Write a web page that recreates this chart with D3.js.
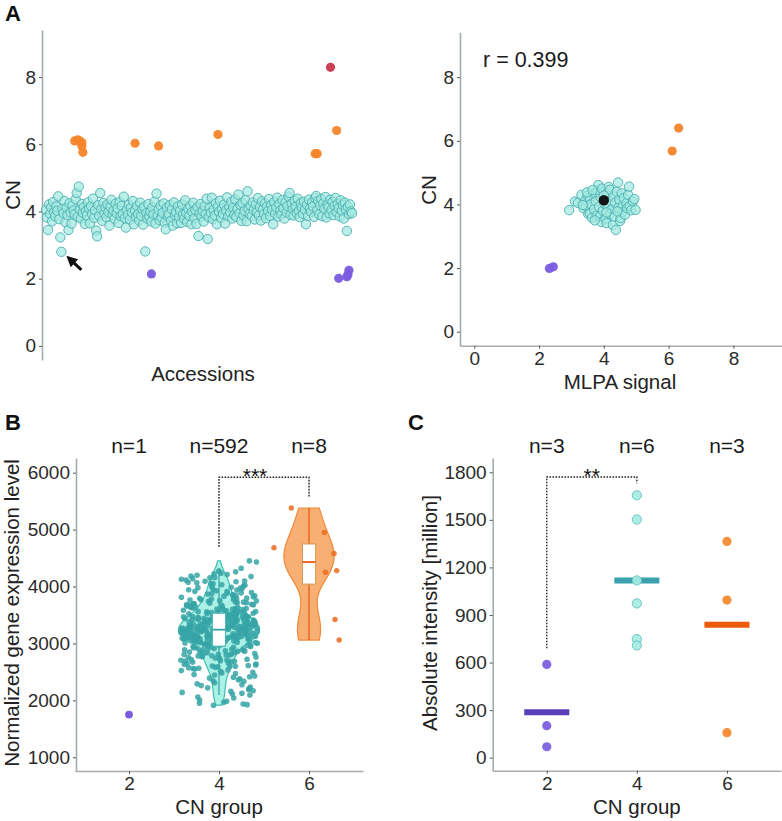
<!DOCTYPE html>
<html>
<head>
<meta charset="utf-8">
<script src="https://cdn.jsdelivr.net/npm/d3@7"></script>
<style>
  body { margin: 0; background: #fff; }
  svg { display: block; }
</style>
</head>
<body>
<div id="chart"></div>
<script>
// ---- Panel A (left): CN per accession, in accession order ----
const cn4Accessions = [
  4.05, 3.82, 3.45, 4.21, 3.93, 4.12, 3.71, 4.28, 3.98, 3.86, 4.15, 4.02, 4.45, 3.77, 3.23, 2.80, 4.08, 3.95, 4.31, 3.68,
  4.11, 3.89, 3.45, 4.24, 3.97, 3.64, 4.18, 4.03, 3.91, 4.36, 4.55, 3.84, 4.74, 4.06, 3.79, 4.22, 3.96, 4.13, 3.63, 4.01,
  3.88, 4.27, 4.09, 3.65, 4.16, 3.92, 4.38, 3.81, 4.04, 3.43, 3.26, 4.19, 3.87, 4.55, 4.07, 3.72, 4.25, 3.94, 4.12, 3.83,
  4.21, 3.98, 3.58, 4.14, 4.35, 3.89, 4.02, 3.78, 4.23, 3.95, 4.09, 3.66, 4.28, 3.86, 4.17, 3.93, 4.44, 3.80, 3.52, 4.05,
  3.90, 4.20, 3.76, 4.11, 3.97, 4.31, 3.62, 4.03, 3.84, 4.16, 3.92, 3.73, 4.26, 3.87, 4.08, 3.61, 4.14, 2.81, 3.95, 3.79,
  4.22, 3.85, 3.99, 3.70, 4.12, 3.91, 4.29, 3.64, 4.53, 3.88, 4.05, 3.74, 4.18, 3.82, 3.96, 4.24, 3.67, 3.47, 4.10, 3.86,
  3.93, 4.19, 3.72, 4.07, 3.58, 4.27, 3.89, 3.98, 3.65, 4.15, 3.84, 4.02, 3.66, 4.21, 3.91, 3.78, 4.33, 3.95, 3.69, 4.08,
  3.87, 4.17, 3.62, 3.99, 4.26, 3.80, 4.04, 3.63, 4.13, 3.27, 3.94, 4.22, 3.85, 4.01, 3.70, 4.16, 3.92, 4.38, 3.18, 3.83,
  4.10, 3.96, 4.41, 3.77, 4.06, 3.88, 4.24, 3.62, 4.14, 3.99, 4.32, 3.81, 4.08, 3.93, 4.20, 3.64, 4.03, 4.42, 3.86, 4.15,
  3.97, 4.28, 3.79, 4.11, 3.90, 4.36, 3.84, 4.07, 4.50, 3.95, 4.19, 3.72, 4.25, 3.88, 4.02, 4.33, 3.71, 4.60, 4.09, 3.93,
  4.17, 3.86, 4.27, 4.04, 3.76, 4.21, 3.98, 4.40, 3.89, 4.13, 3.73, 4.30, 4.06, 3.92, 4.24, 3.80, 4.15, 4.01, 4.37, 3.87,
  4.19, 4.05, 3.62, 4.28, 3.94, 4.12, 4.41, 3.85, 4.22, 4.03, 3.91, 4.34, 4.10, 3.79, 4.26, 3.97, 4.16, 4.44, 4.55, 3.90,
  4.23, 4.07, 3.88, 4.32, 4.14, 3.95, 4.38, 4.02, 3.83, 4.25, 4.11, 3.93, 4.29, 4.06, 3.62, 4.20, 3.87, 4.35, 4.09, 3.99,
  4.27, 4.15, 3.84, 4.40, 4.46, 4.04, 4.31, 3.91, 4.18, 4.37, 3.86, 4.24, 4.08, 4.43, 3.82, 4.21, 4.13, 3.94, 4.35, 4.05,
  4.28, 3.89, 4.17, 4.40, 3.98, 4.22, 4.10, 3.85, 4.33, 4.02, 4.19, 3.79, 4.26, 4.07, 3.42, 4.14, 3.92, 4.21, 4.00, 3.95
];
// [accession index, CN]
const cn6Accessions = [[28, 6.1], [31, 6.13], [33, 6.1], [35, 6.05], [35, 5.95], [36, 5.76], [87, 6.03],
  [110, 5.95], [168, 6.29], [263, 5.72], [265, 5.72], [284, 6.41]];
const cn8Accessions = [[278, 8.29]];
const cn2Accessions = [[103, 2.14], [286, 2.01], [294, 2.06], [295, 2.12], [296, 2.25]];
const arrowAccession = 15;

// ---- Panel A (right): [MLPA signal, CN] ----
const mlpaCN4 = [
  [2.93, 3.82], [3.11, 4.09], [3.2, 4.05], [3.31, 4.3], [3.37, 3.88], [3.42, 4.12], [3.45, 3.95], [3.5, 4.28],
  [3.52, 3.7], [3.57, 4.2], [3.57, 3.72], [3.6, 4.0], [3.63, 3.58], [3.68, 4.33], [3.7, 3.85], [3.73, 4.35],
  [3.75, 4.1], [3.78, 3.65], [3.8, 4.45], [3.83, 4.61], [3.85, 3.92], [3.88, 3.62], [3.9, 4.22], [3.92, 3.45],
  [3.95, 4.5], [3.97, 3.8], [4.02, 4.02], [4.05, 3.55], [4.09, 3.41], [4.1, 4.35], [4.12, 3.95], [4.15, 4.55],
  [4.19, 4.46], [4.2, 3.7], [4.22, 4.1], [4.25, 3.85], [4.28, 3.35], [4.3, 4.25], [4.33, 3.62], [4.35, 4.05],
  [4.37, 3.2], [4.4, 4.4], [4.44, 4.69], [4.45, 3.9], [4.48, 4.15], [4.5, 3.48], [4.52, 3.57], [4.55, 4.35],
  [4.58, 3.95], [4.6, 3.77], [4.62, 4.2], [4.65, 3.68], [4.7, 4.04], [4.72, 3.88], [4.75, 4.3], [4.78, 4.56],
  [4.8, 3.95], [4.85, 3.82], [4.9, 4.1], [4.94, 4.17], [4.98, 3.83], [3.35, 3.98], [3.48, 4.38], [3.65, 4.45],
  [4.0, 4.28], [4.08, 3.75], [3.72, 3.5], [4.42, 3.78]
];
const mlpaCN6 = [[6.11, 5.68], [6.31, 6.4]];
const mlpaCN2 = [[2.32, 1.99], [2.44, 2.04]];
const mlpaRef = [[4.0, 4.13]];
const pearsonLabel = "r = 0.399";

// ---- Panel B: normalized expression per CN group ----
const groups = ["2", "4", "6"];
const exprCN2 = [1750];
const exprCN4 = [
  1915, 1935, 1950, 1985, 2005, 2060, 2095, 2110, 2140, 2170, 2190, 2205, 2235, 2260, 2290,
  2310, 2345, 2360, 2390, 2405, 2430, 2455, 2470, 2495, 2510, 2525, 2550, 2565, 2580, 2590, 2598,
  2605, 2620, 2640, 2655, 2670, 2685, 2695, 2705, 2715, 2730, 2745, 2760, 2775, 2785, 2795,
  2805, 2815, 2830, 2840, 2855, 2865, 2880, 2890, 2898, 2905, 2912, 2925, 2938, 2945, 2958, 2966, 2975, 2985, 2995,
  3004, 3011, 3013, 3022, 3027, 3030, 3038, 3041, 3049, 3052, 3058, 3060, 3067, 3071, 3075, 3082, 3084, 3089, 3093, 3096, 3098,
  3101, 3106, 3109, 3114, 3118, 3121, 3125, 3130, 3133, 3137, 3142, 3145, 3149, 3153, 3158, 3161, 3166, 3170, 3174, 3178, 3183, 3187, 3192, 3197,
  3203, 3205, 3210, 3214, 3217, 3222, 3226, 3229, 3233, 3236, 3240, 3244, 3247, 3251, 3255, 3258, 3262, 3266, 3270, 3273, 3277, 3281, 3285, 3288, 3293, 3298,
  3302, 3306, 3311, 3314, 3318, 3323, 3327, 3330, 3335, 3339, 3342, 3346, 3351, 3355, 3358, 3363, 3367, 3370, 3375, 3379, 3383, 3388, 3392, 3397,
  3404, 3409, 3413, 3418, 3424, 3428, 3433, 3437, 3443, 3448, 3452, 3457, 3462, 3467, 3471, 3476, 3481, 3486, 3491, 3496,
  3505, 3512, 3519, 3526, 3534, 3541, 3548, 3556, 3563, 3570, 3578, 3585, 3592, 3598,
  3606, 3615, 3624, 3633, 3642, 3651, 3660, 3669, 3678, 3687, 3696,
  3708, 3719, 3730, 3741, 3752, 3763, 3774, 3785, 3796,
  3806, 3818, 3831, 3843, 3856, 3868, 3881, 3893,
  3910, 3924, 3938, 3952, 3966, 3980, 3994,
  4012, 4030, 4048, 4066, 4084, 4098, 4115, 4135, 4160, 4185, 4198,
  4210, 4235, 4270, 4320, 4430, 4450,
  1925, 1968, 2040, 2125, 2160, 2220, 2275, 2335, 2380, 2415, 2445, 2480,
  2535, 2560, 2575, 2595, 2612, 2633, 2648, 2677, 2690,
  2708, 2722, 2738, 2752, 2768, 2781, 2799, 2808, 2822, 2836, 2848, 2861, 2872, 2887,
  2903, 2918, 2931, 2942, 2953, 2962, 2979, 2991,
  3006, 3017, 3024, 3033, 3045, 3055, 3063, 3069, 3077, 3081, 3086, 3091, 3097,
  3103, 3111, 3116, 3123, 3128, 3135, 3140, 3147, 3155, 3163, 3168, 3176, 3185, 3194,
  3201, 3208, 3212, 3219, 3224, 3231, 3238, 3242, 3249, 3256, 3264, 3271, 3279, 3286, 3295,
  3304, 3309, 3316, 3321, 3329, 3333, 3341, 3348, 3353, 3361, 3369, 3377, 3386, 3394,
  3402, 3411, 3420, 3426, 3435, 3441, 3450, 3459, 3466, 3474, 3483, 3494,
  3508, 3516, 3530, 3538, 3552, 3560, 3574, 3582, 3595,
  3610, 3628, 3646, 3657, 3672, 3684, 3699,
  3713, 3726, 3747, 3768, 3780, 3792, 3812, 3837, 3851, 3874, 3889,
  3915, 3943, 3971, 3988, 4021, 4055, 4076, 4093, 4128, 4152, 4176, 4225, 4260
];
const exprCN6 = [5380, 4950, 4580, 4250, 4280, 4680, 3420, 3060];
const nLabelsB = ["n=1", "n=592", "n=8"];

// ---- Panel C: absolute intensity [million] ----
const intensityCN2 = [588, 202, 69];
const intensityCN4 = [1655, 1502, 1118, 973, 748, 708];
const intensityCN6 = [1364, 994, 158];
const nLabelsC = ["n=3", "n=6", "n=3"];

const FONT = '"Liberation Sans", Arial, Helvetica, sans-serif';
const W = 782, H = 821;

const svg = d3.select("#chart").append("svg")
  .attr("width", W).attr("height", H)
  .attr("viewBox", `0 0 ${W} ${H}`)
  .style("font-family", FONT);

svg.append("rect").attr("width", W).attr("height", H).attr("fill", "#fff");

function styleAxis(g) {
  g.attr("font-family", FONT).attr("font-size", 19);
  g.select(".domain").attr("stroke", "#a5adad").attr("stroke-width", 1.6);
  g.selectAll(".tick line").attr("stroke", "#555").attr("stroke-width", 1);
  g.selectAll(".tick text").attr("fill", "#2b2b2b");
}

function yTitle(x, y, label) {
  svg.append("text")
    .attr("transform", `translate(${x},${y}) rotate(-90)`)
    .attr("text-anchor", "middle")
    .attr("font-size", 20.5)
    .attr("fill", "#222")
    .text(label);
}

function xTitle(x, y, label) {
  svg.append("text")
    .attr("x", x).attr("y", y)
    .attr("text-anchor", "middle")
    .attr("font-size", 20.5)
    .attr("fill", "#222")
    .text(label);
}

function panelLetter(x, y, label) {
  svg.append("text")
    .attr("x", x).attr("y", y)
    .attr("font-size", 22)
    .attr("font-weight", "bold")
    .attr("fill", "#111")
    .text(label);
}

const teal = { fill: "#a2e9df", stroke: "#48aeb2" };
const orange = "#f7852a";
const red = "#c8364b";
const purple = "#7a5be0";
const intFormat = d3.format("d");

// ================= Panel A left =================
const xA = d3.scaleLinear().domain([0, cn4Accessions.length - 1]).range([46, 352]);
const yA = d3.scaleLinear().domain([-0.42, 9.4]).range([360, 30]);

svg.append("g")
  .attr("transform", "translate(42,0)")
  .call(d3.axisLeft(yA).tickValues([0, 2, 4, 6, 8]).tickSize(3).tickPadding(3).tickSizeOuter(0))
  .call(styleAxis);

svg.append("g").selectAll("circle")
  .data(cn4Accessions.map((v, i) => [i, v]))
  .join("circle")
  .attr("cx", d => xA(d[0]))
  .attr("cy", d => yA(d[1]))
  .attr("r", 4.7)
  .attr("fill", teal.fill)
  .attr("fill-opacity", 0.72)
  .attr("stroke", teal.stroke)
  .attr("stroke-width", 0.9);

[[cn6Accessions, orange], [cn8Accessions, red], [cn2Accessions, purple]].forEach(([data, c]) => {
  svg.append("g").selectAll("circle")
    .data(data)
    .join("circle")
    .attr("cx", d => xA(d[0]))
    .attr("cy", d => yA(d[1]))
    .attr("r", 4.6)
    .attr("fill", c)
    .attr("fill-opacity", 0.95);
});

// arrow pointing at one accession
{
  const tip = [xA(arrowAccession) + 5, yA(cn4Accessions[arrowAccession]) + 4];
  const tail = [tip[0] + 15, tip[1] + 14];
  const len = Math.hypot(tail[0] - tip[0], tail[1] - tip[1]);
  const dx = (tip[0] - tail[0]) / len, dy = (tip[1] - tail[1]) / len;
  const hl = 11, hw = 5.5;
  const base = [tip[0] - dx * hl, tip[1] - dy * hl];
  svg.append("line")
    .attr("x1", tail[0]).attr("y1", tail[1])
    .attr("x2", tip[0] - dx * 7).attr("y2", tip[1] - dy * 7)
    .attr("stroke", "#111").attr("stroke-width", 3);
  svg.append("path")
    .attr("d", `M${tip[0]},${tip[1]}L${base[0] - dy * hw},${base[1] + dx * hw}L${base[0] + dy * hw},${base[1] - dx * hw}Z`)
    .attr("fill", "#111");
}

yTitle(20, 195, "CN");
xTitle(203, 381, "Accessions");
panelLetter(5, 21, "A");

// ================= Panel A right =================
const xM = d3.scaleLinear().domain([-0.44, 9.5]).range([460, 782]);
const yM = d3.scaleLinear().domain([-0.44, 9.41]).range([345.7, 32.3]);

svg.append("g")
  .attr("transform", "translate(460,0)")
  .call(d3.axisLeft(yM).tickValues([0, 2, 4, 6, 8]).tickSize(3).tickPadding(3).tickSizeOuter(0))
  .call(styleAxis);
svg.append("g")
  .attr("transform", "translate(0,345.7)")
  .call(d3.axisBottom(xM).tickValues([0, 2, 4, 6, 8]).tickSize(3).tickPadding(3).tickSizeOuter(0))
  .call(styleAxis);

svg.append("g").selectAll("circle")
  .data(mlpaCN4)
  .join("circle")
  .attr("cx", d => xM(d[0]))
  .attr("cy", d => yM(d[1]))
  .attr("r", 4.7)
  .attr("fill", teal.fill)
  .attr("fill-opacity", 0.72)
  .attr("stroke", teal.stroke)
  .attr("stroke-width", 0.9);

[[mlpaCN6, orange, 4.6], [mlpaCN2, purple, 4.6], [mlpaRef, "#0b0b0b", 5.2]].forEach(([data, c, r]) => {
  svg.append("g").selectAll("circle")
    .data(data)
    .join("circle")
    .attr("cx", d => xM(d[0]))
    .attr("cy", d => yM(d[1]))
    .attr("r", r)
    .attr("fill", c)
    .attr("fill-opacity", 0.95);
});

svg.append("text")
  .attr("x", 483).attr("y", 67)
  .attr("font-size", 21.5)
  .attr("fill", "#1a1a1a")
  .text(pearsonLabel);

yTitle(436, 190, "CN");
xTitle(620, 389, "MLPA signal");

// ================= Panel B =================
const xB = d3.scaleLinear().domain([0.4, 3.6]).range([75, 363]);
const yB = d3.scaleLinear().domain([759, 6258]).range([771, 458]);

svg.append("g")
  .attr("transform", "translate(76,0)")
  .call(d3.axisLeft(yB).tickValues([1000, 2000, 3000, 4000, 5000, 6000]).tickFormat(intFormat).tickSize(3).tickPadding(3).tickSizeOuter(0))
  .call(styleAxis);
svg.append("g")
  .attr("transform", "translate(0,771)")
  .call(d3.axisBottom(xB).tickValues([1, 2, 3]).tickFormat((d, i) => groups[i]).tickSize(3).tickPadding(3).tickSizeOuter(0))
  .call(styleAxis);

function nrd0(v) {
  const s = v.slice().sort(d3.ascending);
  const iqr = d3.quantileSorted(s, 0.75) - d3.quantileSorted(s, 0.25);
  return 0.9 * Math.min(d3.deviation(s), iqr / 1.34) * Math.pow(s.length, -0.2);
}
function density(v) {
  const bw = nrd0(v);
  const [lo, hi] = d3.extent(v);
  return d3.range(0, 121).map(k => {
    const y = lo + (hi - lo) * k / 120;
    const d = d3.mean(v, x => Math.exp(-0.5 * ((y - x) / bw) ** 2)) / (bw * Math.sqrt(2 * Math.PI));
    return { y, d };
  });
}

const violinGroups = [
  { pos: 2, values: exprCN4, fill: "#9eefe0", stroke: "#3fc0b0", point: "#36a5a6", pr: 2.8, median: "#3aa5a8", boxStroke: "#45b8b2" },
  { pos: 3, values: exprCN6, fill: "#f6a15c", stroke: "#f08a3a", point: "#ec6a1e", pr: 2.7, median: "#ef5a14", boxStroke: "#d99a5a" }
];
violinGroups.forEach(g => { g.dens = density(g.values); });
const maxD = d3.max(violinGroups, g => d3.max(g.dens, p => p.d));

violinGroups.forEach(g => {
  const area = d3.area()
    .y(p => yB(p.y))
    .x0(p => xB(g.pos - 0.45 * p.d / maxD))
    .x1(p => xB(g.pos + 0.45 * p.d / maxD))
    .curve(d3.curveBasis);
  svg.append("path")
    .attr("d", area(g.dens))
    .attr("fill", g.fill)
    .attr("fill-opacity", 0.85)
    .attr("stroke", g.stroke)
    .attr("stroke-width", 1.2);
});

// jittered points
const rng = d3.randomLcg(0.4217);
violinGroups.forEach(g => {
  svg.append("g").selectAll("circle")
    .data(g.values.map(v => ({ v, j: (rng() * 2 - 1) * 0.43 })))
    .join("circle")
    .attr("cx", d => xB(g.pos + d.j))
    .attr("cy", d => yB(d.v))
    .attr("r", g.pr)
    .attr("fill", g.point)
    .attr("fill-opacity", 0.85);
});

// boxplots
violinGroups.forEach(g => {
  const s = g.values.slice().sort(d3.ascending);
  const q1 = d3.quantileSorted(s, 0.25), med = d3.quantileSorted(s, 0.5), q3 = d3.quantileSorted(s, 0.75);
  const iqr = q3 - q1;
  const lo = d3.min(s.filter(v => v >= q1 - 1.5 * iqr));
  const hi = d3.max(s.filter(v => v <= q3 + 1.5 * iqr));
  const bg = svg.append("g");
  bg.append("line")
    .attr("x1", xB(g.pos)).attr("x2", xB(g.pos))
    .attr("y1", yB(lo)).attr("y2", yB(q1))
    .attr("stroke", g.median).attr("stroke-width", 1.3);
  bg.append("line")
    .attr("x1", xB(g.pos)).attr("x2", xB(g.pos))
    .attr("y1", yB(q3)).attr("y2", yB(hi))
    .attr("stroke", g.median).attr("stroke-width", 1.3);
  bg.append("rect")
    .attr("x", xB(g.pos - 0.073)).attr("width", xB(g.pos + 0.073) - xB(g.pos - 0.073))
    .attr("y", yB(q3)).attr("height", yB(q1) - yB(q3))
    .attr("fill", "#fff").attr("stroke", g.boxStroke).attr("stroke-width", 1);
  bg.append("line")
    .attr("x1", xB(g.pos - 0.073)).attr("x2", xB(g.pos + 0.073))
    .attr("y1", yB(med)).attr("y2", yB(med))
    .attr("stroke", g.median).attr("stroke-width", 1.8);
});

svg.append("g").selectAll("circle")
  .data(exprCN2)
  .join("circle")
  .attr("cx", xB(1)).attr("cy", d => yB(d))
  .attr("r", 3.9).attr("fill", purple);

svg.append("g").selectAll("text")
  .data(nLabelsB)
  .join("text")
  .attr("x", (d, i) => xB(i + 1)).attr("y", 453)
  .attr("text-anchor", "middle")
  .attr("font-size", 21)
  .attr("fill", "#1a1a1a")
  .text(d => d);

svg.append("path")
  .attr("d", `M${xB(2)},${yB(4700)}V${yB(5920)}H${xB(3)}V${yB(5570)}`)
  .attr("fill", "none").attr("stroke", "#222").attr("stroke-width", 1.4).attr("stroke-dasharray", "1.6,1.4");
svg.append("text")
  .attr("x", xB(2.4)).attr("y", 483)
  .attr("text-anchor", "middle").attr("font-size", 21).attr("fill", "#111")
  .text("***");

yTitle(19, 613, "Normalized gene expression level");
xTitle(xB(2), 814, "CN group");
panelLetter(5, 430, "B");

// ================= Panel C =================
const xC = d3.scaleLinear().domain([0.4, 3.6]).range([492.7, 781]);
const yC = d3.scaleLinear().domain([-82, 1890]).range([770.7, 458]);

svg.append("g")
  .attr("transform", "translate(492.7,0)")
  .call(d3.axisLeft(yC).tickValues([0, 300, 600, 900, 1200, 1500, 1800]).tickFormat(intFormat).tickSize(3).tickPadding(3).tickSizeOuter(0))
  .call(styleAxis);
svg.append("g")
  .attr("transform", "translate(0,770.7)")
  .call(d3.axisBottom(xC).tickValues([1, 2, 3]).tickFormat((d, i) => groups[i]).tickSize(3).tickPadding(3).tickSizeOuter(0))
  .call(styleAxis);

const cGroups = [
  { pos: 1, values: intensityCN2, fill: purple, stroke: "none", bar: "#5a3fb8" },
  { pos: 2, values: intensityCN4, fill: "#a5ebe2", stroke: "#6cc8c3", bar: "#3aa1ad" },
  { pos: 3, values: intensityCN6, fill: orange, stroke: "none", bar: "#ee5a0c" }
];

cGroups.forEach(g => {
  const m = d3.mean(g.values);
  svg.append("line")
    .attr("x1", xC(g.pos - 0.25)).attr("x2", xC(g.pos + 0.25))
    .attr("y1", yC(m)).attr("y2", yC(m))
    .attr("stroke", g.bar).attr("stroke-width", 6);
  svg.append("g").selectAll("circle")
    .data(g.values)
    .join("circle")
    .attr("cx", xC(g.pos)).attr("cy", d => yC(d))
    .attr("r", 4.6)
    .attr("fill", g.fill).attr("fill-opacity", 0.92)
    .attr("stroke", g.stroke).attr("stroke-width", 1);
});

svg.append("g").selectAll("text")
  .data(nLabelsC)
  .join("text")
  .attr("x", (d, i) => xC(i + 1)).attr("y", 453)
  .attr("text-anchor", "middle")
  .attr("font-size", 21)
  .attr("fill", "#1a1a1a")
  .text(d => d);

svg.append("path")
  .attr("d", `M${xC(1)},${yC(690)}V${yC(1770)}H${xC(2)}V${yC(1730)}`)
  .attr("fill", "none").attr("stroke", "#222").attr("stroke-width", 1.4).attr("stroke-dasharray", "1.6,1.4");
svg.append("text")
  .attr("x", xC(1.5)).attr("y", 483)
  .attr("text-anchor", "middle").attr("font-size", 21).attr("fill", "#111")
  .text("**");

yTitle(437, 613, "Absolute intensity [million]");
xTitle(xC(2), 814, "CN group");
panelLetter(408, 430, "C");
</script>
</body>
</html>
